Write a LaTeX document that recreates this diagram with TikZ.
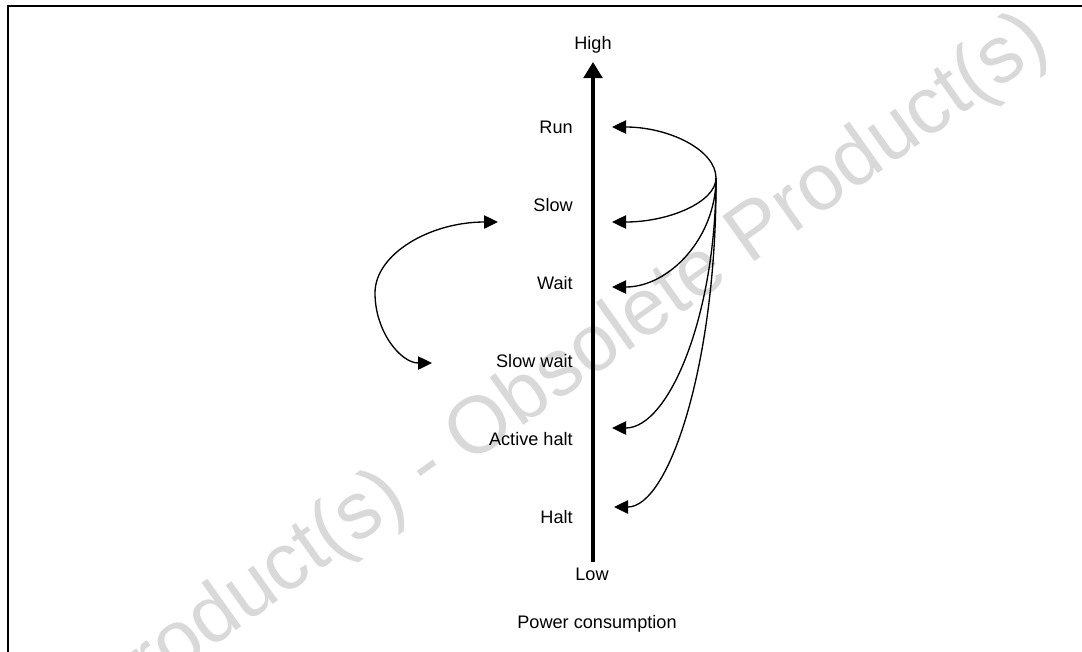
\documentclass[tikz,border=0pt]{standalone}
\usepackage{fontspec}
\setmainfont{Liberation Sans}
\usetikzlibrary{arrows.meta}
\begin{document}
\begin{tikzpicture}[x=0.75pt,y=-0.75pt,
  lbl/.style={font=\fontsize{13.6pt}{16pt}\selectfont, inner sep=0pt},
  watermark/.style={font=\fontsize{60.4pt}{70pt}\selectfont, text=black!15, inner sep=0pt},
  conn/.style={line width=1pt, -{Triangle[length=10.5pt,width=10pt]}},
  dconn/.style={line width=1pt, {Triangle[length=10.5pt,width=10pt]}-{Triangle[length=10.5pt,width=10pt]}},
  axis/.style={line width=2.3pt, -{Triangle[length=12pt,width=14pt]}},
  frame/.style={line width=1.7pt}]
\useasboundingbox (0,0) rectangle (1082,651);
% watermark
\node[watermark, rotate=35.4] (wm) at (568,369) {Product(s) - Obsolete Product(s)};
% frame
\draw[frame] (8,700) -- (8,6) -- (1120,6);
% axis
\coordinate (axbot) at (593,562);
\coordinate (axtop) at (593,62);
\draw[axis] (axbot) -- (axtop);
\node[lbl, anchor=base] (high) at (593,49) {High};
\node[lbl, anchor=base] (low) at (592,580) {Low};
\node[lbl, anchor=base] (power) at (597,628) {Power consumption};
% state labels
\node[lbl, anchor=base east] (run) at (573,133) {Run};
\node[lbl, anchor=base east] (slow) at (573,211) {Slow};
\node[lbl, anchor=base east] (wait) at (573,289) {Wait};
\node[lbl, anchor=base east] (slowwait) at (573,367) {Slow wait};
\node[lbl, anchor=base east] (active) at (573,445) {Active halt};
\node[lbl, anchor=base east] (halt) at (573,523) {Halt};
% transitions from the right
\coordinate (src) at (716,178);
\coordinate (trun) at (612,127);
\coordinate (tslow) at (612,222);
\coordinate (twait) at (612,287);
\coordinate (tactive) at (612,428);
\coordinate (thalt) at (614,507);
\draw[conn] (src) .. controls (716,150) and (669,127) .. (trun);
\draw[conn] (src) .. controls (716,202) and (669,222) .. (tslow);
\draw[conn] (src) .. controls (716,238) and (669,287) .. (twait);
\draw[conn] (src) .. controls (716,315) and (669,428) .. (tactive);
\draw[conn] (src) .. controls (717,359) and (670,507) .. (thalt);
% slow <-> slow wait
\coordinate (lslow) at (498,222);
\coordinate (lmid) at (375,293);
\coordinate (lslowwait) at (432,363);
\draw[dconn] (lslow) .. controls (430,222) and (375,254) .. (lmid)
  .. controls (375,332) and (401,363) .. (lslowwait);
\end{tikzpicture}
\end{document}
